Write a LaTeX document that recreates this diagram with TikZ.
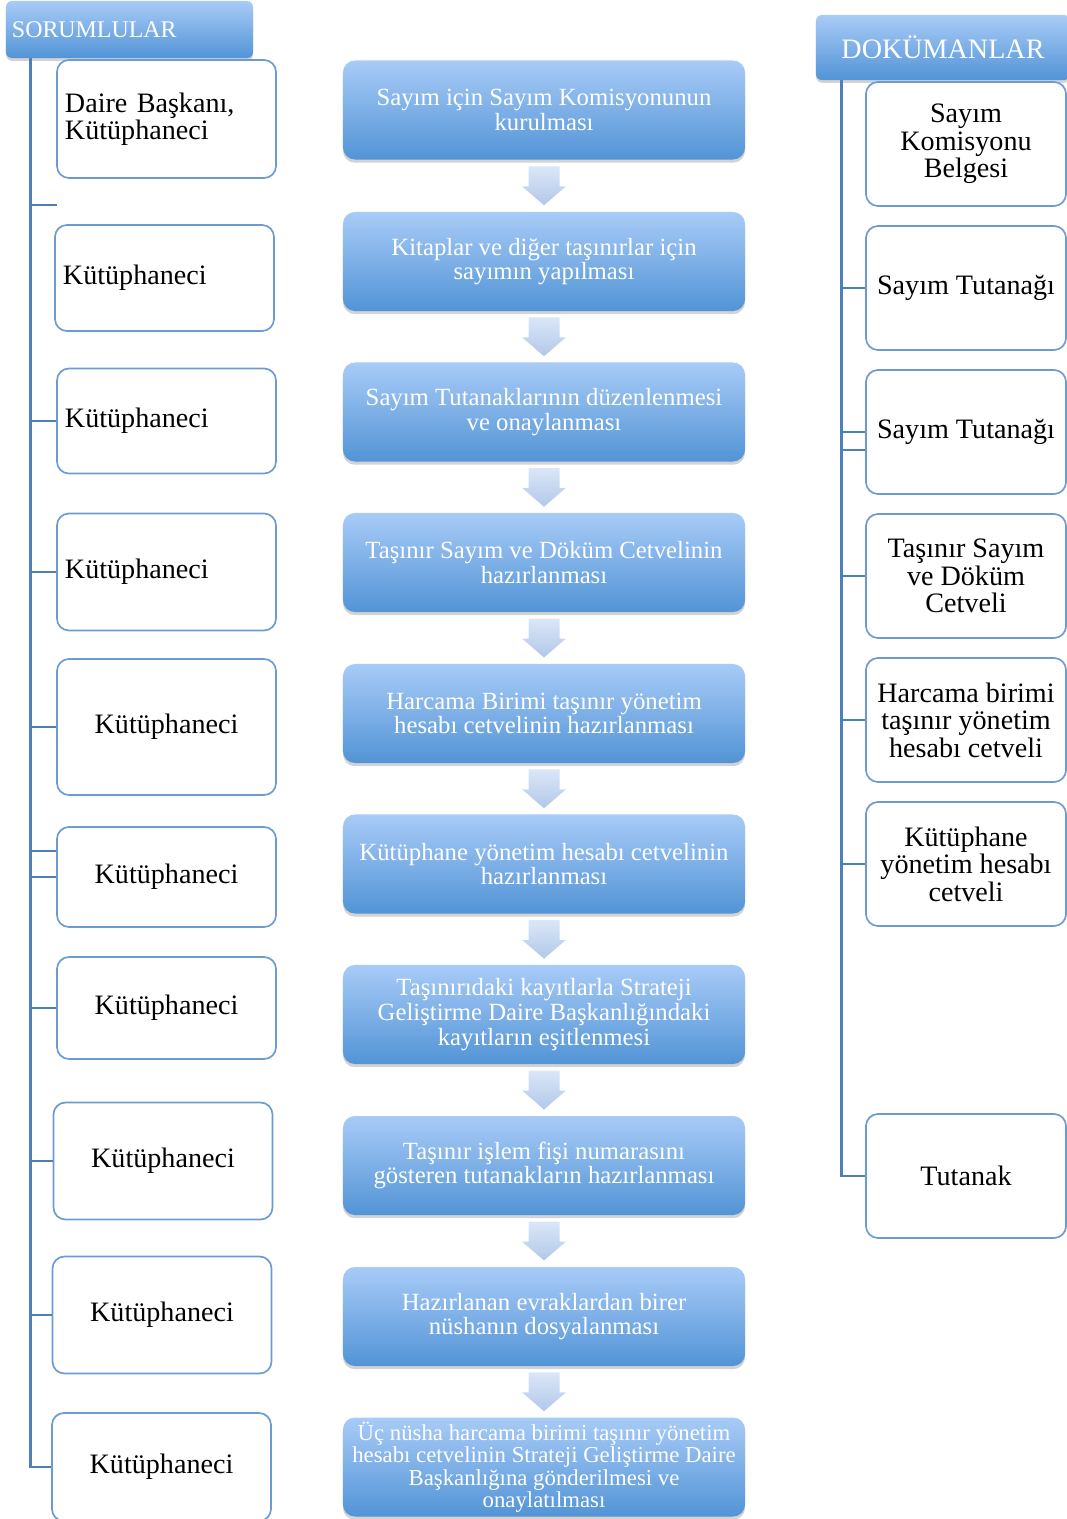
\documentclass[tikz,border=0pt]{standalone}
\usepackage{fontspec}
\setmainfont{Liberation Serif}
\usetikzlibrary{shadows,calc,positioning}

\definecolor{kutuust}{HTML}{A8CBF7}
\definecolor{kutualt}{HTML}{5294D6}
\definecolor{cizgi}{HTML}{4F7FB8}
\definecolor{cerceve}{HTML}{6C9BD2}
\definecolor{okust}{HTML}{DAE7F8}
\definecolor{okalt}{HTML}{B2C7E8}

\tikzset{
    blokok/.pic={
        \shade[top color=okust, bottom color=okalt]
            (-15.5,-19.5) -- (15.5,-19.5) -- (15.5,0.5) -- (22,0.5) -- (0,19.5)
            -- (-22,0.5) -- (-15.5,0.5) -- cycle;
    }
}

\begin{document}
\begin{tikzpicture}[x=0.025cm, y=-0.025cm,
    baslik/.style={rectangle, rounded corners=0.15cm, top color=kutuust, bottom color=kutualt,
        text=white, inner sep=0pt,
        drop shadow={shadow xshift=0pt, shadow yshift=-0.07cm, opacity=0.35}},
    adim/.style={rectangle, rounded corners=0.3cm, minimum width=10.05cm, minimum height=2.475cm,
        top color=kutuust, bottom color=kutualt, text=white, align=center, inner sep=0pt,
        font=\fontsize{17.6}{17.5}\selectfont,
        drop shadow={shadow xshift=0pt, shadow yshift=-0.08cm, opacity=0.35}},
    sorumlu/.style={rectangle, rounded corners=0.3cm, draw=cerceve, line width=1.2pt, fill=white,
        minimum width=5.475cm, inner xsep=0.2cm, align=center,
        font=\fontsize{20}{19.5}\selectfont},
    dokuman/.style={rectangle, rounded corners=0.3cm, draw=cerceve, line width=1.2pt, fill=white,
        minimum width=5cm, minimum height=3.1cm, inner xsep=0.05cm, align=center,
        font=\fontsize{20}{19.5}\selectfont},
    govde/.style={draw=cizgi, line width=2.1pt},
    dal/.style={draw=cizgi, line width=1.4pt}]

    \useasboundingbox (0,0) rectangle (1066,1519);

    %%%%%%%%%% Başlıklar %%%%%%%%%%
    \node[baslik, minimum width=6.175cm, minimum height=1.425cm, text width=5.875cm, align=left,
        font=\fontsize{17}{17}\selectfont] (sor) at (129.5,29.5) {SORUMLULAR};
    \node[baslik, minimum width=6.35cm, minimum height=1.625cm, align=center,
        font=\fontsize{20}{20}\selectfont] (dok) at (943,47.5) {DOKÜMANLAR};

    %%%%%%%%%% Adımlar %%%%%%%%%%
    \node[adim] (c1)  at (544,110)    {Sayım için Sayım Komisyonunun\\kurulması};
    \node[adim] (c2)  at (544,261.5)  {Kitaplar ve diğer taşınırlar için\\sayımın yapılması};
    \node[adim] (c3)  at (544,412)    {Sayım Tutanaklarının düzenlenmesi\\ve onaylanması};
    \node[adim] (c4)  at (544,562.5)  {Taşınır Sayım ve Döküm Cetvelinin\\hazırlanması};
    \node[adim] (c5)  at (544,713.5)  {Harcama Birimi taşınır yönetim\\hesabı cetvelinin hazırlanması};
    \node[adim] (c6)  at (544,864)    {Kütüphane yönetim hesabı cetvelinin\\hazırlanması};
    \node[adim] (c7)  at (544,1014.5) {Taşınırıdaki kayıtlarla Strateji\\Geliştirme Daire Başkanlığındaki\\kayıtların eşitlenmesi};
    \node[adim] (c8)  at (544,1165.5) {Taşınır işlem fişi numarasını\\gösteren tutanakların hazırlanması};
    \node[adim] (c9)  at (544,1316.5) {Hazırlanan evraklardan birer\\nüshanın dosyalanması};
    \node[adim, font=\fontsize{16.2}{16}\selectfont] (c10) at (544,1467)
        {Üç nüsha harcama birimi taşınır yönetim\\hesabı cetvelinin Strateji Geliştirme Daire\\Başkanlığına gönderilmesi ve\\onaylatılması};

    %%%%%%%%%% Oklar %%%%%%%%%%
    \coordinate (o1) at ($(c1.south)!0.5!(c2.north)$);
    \coordinate (o2) at ($(c2.south)!0.5!(c3.north)$);
    \coordinate (o3) at ($(c3.south)!0.5!(c4.north)$);
    \coordinate (o4) at ($(c4.south)!0.5!(c5.north)$);
    \coordinate (o5) at ($(c5.south)!0.5!(c6.north)$);
    \coordinate (o6) at ($(c6.south)!0.5!(c7.north)$);
    \coordinate (o7) at ($(c7.south)!0.5!(c8.north)$);
    \coordinate (o8) at ($(c8.south)!0.5!(c9.north)$);
    \coordinate (o9) at ($(c9.south)!0.5!(c10.north)$);
    \pic at (o1) {blokok};
    \pic at (o2) {blokok};
    \pic at (o3) {blokok};
    \pic at (o4) {blokok};
    \pic at (o5) {blokok};
    \pic at (o6) {blokok};
    \pic at (o7) {blokok};
    \pic at (o8) {blokok};
    \pic at (o9) {blokok};

    %%%%%%%%%% Sorumlular %%%%%%%%%%
    \node[sorumlu, minimum height=2.95cm, text width=5.075cm, align=left]  (l1)  at (166.5,119)   {Daire Başkanı,\\Kütüphaneci};
    \node[sorumlu, minimum height=2.65cm, text width=5.075cm, align=left]  (l2)  at (164.5,278)   {Kütüphaneci};
    \node[sorumlu, minimum height=2.625cm, text width=5.075cm, align=left] (l3)  at (166.5,421)   {Kütüphaneci};
    \node[sorumlu, minimum height=2.925cm, text width=5.075cm, align=left] (l4)  at (166.5,572)   {Kütüphaneci};
    \node[sorumlu, minimum height=3.4cm]   (l5)  at (166.5,727)    {Kütüphaneci};
    \node[sorumlu, minimum height=2.5cm]   (l6)  at (166.5,877)    {Kütüphaneci};
    \node[sorumlu, minimum height=2.55cm]  (l7)  at (166.5,1008)   {Kütüphaneci};
    \node[sorumlu, minimum height=2.925cm] (l8)  at (163,1161)     {Kütüphaneci};
    \node[sorumlu, minimum height=2.925cm] (l9)  at (162,1315)     {Kütüphaneci};
    \node[sorumlu, minimum height=2.7cm]   (l10) at (161.5,1467)   {Kütüphaneci};

    %%%%%%%%%% Dokümanlar %%%%%%%%%%
    \node[dokuman] (r1) at (966,144)  {Sayım\\Komisyonu\\Belgesi};
    \node[dokuman] (r2) at (966,288)  {Sayım Tutanağı};
    \node[dokuman] (r3) at (966,432)  {Sayım Tutanağı};
    \node[dokuman] (r4) at (966,576)  {Taşınır Sayım\\ve Döküm\\Cetveli};
    \node[dokuman] (r5) at (966,720)  {Harcama birimi\\taşınır yönetim\\hesabı cetveli};
    \node[dokuman] (r6) at (966,864)  {Kütüphane\\yönetim hesabı\\cetveli};
    \node[dokuman] (r7) at (966,1176) {Tutanak};

    %%%%%%%%%% Bağlantılar %%%%%%%%%%
    \coordinate (sT) at ([xshift=0.625cm]sor.south west);
    \coordinate (dT) at ([xshift=0.65cm]dok.south west);
    \coordinate (k1) at (57,205);

    \draw[govde] (sT) |- (l10.west);
    \draw[dal] (k1) -- (k1 -| sT);
    \draw[dal] (l3.west) -- (l3.west -| sT);
    \draw[dal] (l4.west) -- (l4.west -| sT);
    \draw[dal] (l5.west) -- (l5.west -| sT);
    \draw[dal] ([yshift=0.65cm]l6.west) -- ([yshift=0.65cm]l6.west -| sT);
    \draw[dal] (l6.west) -- (l6.west -| sT);
    \draw[dal] (l7.west) -- (l7.west -| sT);
    \draw[dal] (l8.west) -- (l8.west -| sT);
    \draw[dal] (l9.west) -- (l9.west -| sT);

    \draw[govde] (dT) |- (r7.west);
    \draw[dal] (r2.west) -- (r2.west -| dT);
    \draw[dal] (r3.west) -- (r3.west -| dT);
    \draw[dal] ([yshift=-0.45cm]r3.west) -- ([yshift=-0.45cm]r3.west -| dT);
    \draw[dal] (r4.west) -- (r4.west -| dT);
    \draw[dal] (r5.west) -- (r5.west -| dT);
    \draw[dal] (r6.west) -- (r6.west -| dT);
\end{tikzpicture}
\end{document}
